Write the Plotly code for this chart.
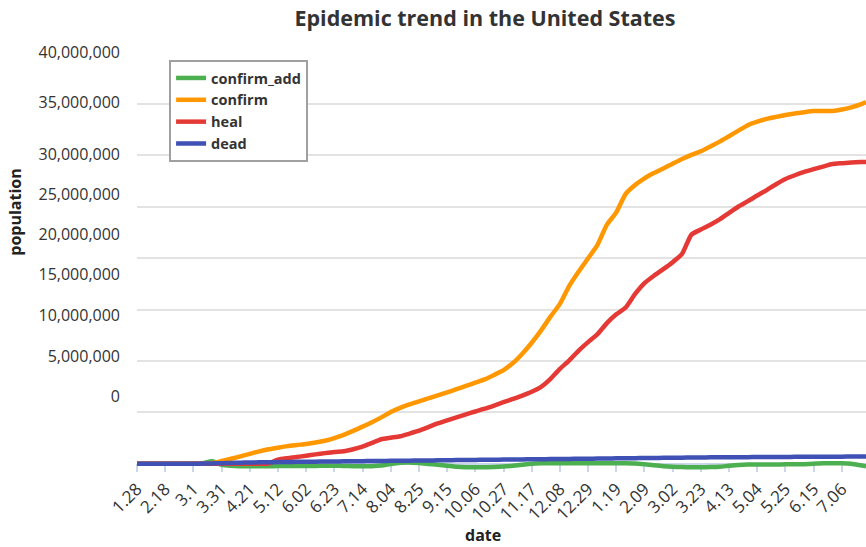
import pandas as pd
import plotly.graph_objects as go

# Weekly sample dates, plus the last reported day
sample_dates = list(pd.date_range("2020-01-28", "2021-07-20", freq="7D").strftime("%Y-%m-%d")) + ["2021-07-24"]

# Series values in millions of people
confirm_add_m = [0.0, 0.0, 0.0, 0.0, 0.0, 0.0, 0.02, 0.05, 0.25, -0.10,
                 -0.20, -0.24, -0.25, -0.25, -0.24, -0.23, -0.22, -0.22, -0.22, -0.21,
                 -0.20, -0.20, -0.22, -0.24, -0.25, -0.24, -0.18, -0.02, 0.10, 0.12,
                 0.06, -0.02, -0.10, -0.20, -0.30, -0.34, -0.35, -0.34, -0.33, -0.28,
                 -0.20, -0.10, 0.0, 0.04, 0.05, 0.05, 0.05, 0.05, 0.05, 0.05,
                 0.05, 0.05, 0.05, 0.03, -0.05, -0.15, -0.24, -0.30, -0.33, -0.34,
                 -0.34, -0.33, -0.30, -0.20, -0.12, -0.08, -0.08, -0.08, -0.07, -0.06,
                 -0.06, -0.04, 0.0, 0.04, 0.05, 0.05, 0.0, -0.15, -0.24]
confirm_m = [0.0, 0.0, 0.0, 0.0, 0.0, 0.0, 0.0, 0.01, 0.06, 0.26,
             0.48, 0.72, 0.96, 1.20, 1.40, 1.56, 1.71, 1.82, 1.92, 2.06,
             2.24, 2.49, 2.81, 3.19, 3.61, 4.04, 4.51, 5.03, 5.44, 5.77,
             6.07, 6.35, 6.64, 6.94, 7.25, 7.57, 7.89, 8.21, 8.64, 9.11,
             9.79, 10.70, 11.77, 12.97, 14.31, 15.55, 17.30, 18.69, 19.98, 21.29,
             23.25, 24.45, 26.25, 27.11, 27.76, 28.27, 28.72, 29.18, 29.64, 30.04,
             30.39, 30.86, 31.33, 31.86, 32.40, 32.93, 33.27, 33.55, 33.74, 33.92,
             34.07, 34.19, 34.30, 34.32, 34.31, 34.45, 34.67, 34.96, 35.19]
heal_m = [0.0, 0.0, 0.0, 0.0, 0.0, 0.0, 0.0, 0.0, 0.0, 0.0,
          0.0, 0.0, 0.0, 0.0, 0.02, 0.39, 0.54, 0.65, 0.78, 0.91,
          1.03, 1.14, 1.21, 1.41, 1.67, 2.02, 2.38, 2.53, 2.67, 2.93,
          3.21, 3.56, 3.92, 4.22, 4.51, 4.80, 5.08, 5.35, 5.66, 5.98,
          6.30, 6.63, 7.00, 7.47, 8.25, 9.23, 10.06, 11.01, 11.83, 12.61,
          13.68, 14.53, 15.20, 16.51, 17.57, 18.28, 18.93, 19.61, 20.41, 22.29,
          22.78, 23.25, 23.77, 24.40, 25.02, 25.54, 26.09, 26.62, 27.19, 27.70,
          28.06, 28.38, 28.65, 28.90, 29.15, 29.23, 29.30, 29.34, 29.35]
dead_m = [0.0, 0.0, 0.0, 0.0, 0.0, 0.0, 0.0, 0.01, 0.02, 0.05,
          0.08, 0.10, 0.12, 0.14, 0.15, 0.16, 0.17, 0.18, 0.19, 0.20,
          0.21, 0.22, 0.23, 0.24, 0.25, 0.26, 0.27, 0.28, 0.29, 0.30,
          0.31, 0.32, 0.33, 0.34, 0.35, 0.36, 0.37, 0.38, 0.39, 0.40,
          0.41, 0.42, 0.43, 0.44, 0.45, 0.46, 0.47, 0.48, 0.49, 0.50,
          0.51, 0.52, 0.53, 0.54, 0.55, 0.56, 0.57, 0.58, 0.59, 0.60,
          0.61, 0.62, 0.62, 0.63, 0.64, 0.64, 0.65, 0.65, 0.66, 0.66,
          0.67, 0.67, 0.68, 0.68, 0.69, 0.69, 0.70, 0.70, 0.71]

# Category labels on the date axis (every 21 days)
tick_dates = list(pd.date_range("2020-01-28", "2021-07-06", freq="21D").strftime("%Y-%m-%d"))
tick_labels = ["1.28", "2.18", "3.1", "3.31", "4.21", "5.12", "6.02", "6.23", "7.14",
               "8.04", "8.25", "9.15", "10.06", "10.27", "11.17", "12.08", "12.29",
               "1.19", "2.09", "3.02", "3.23", "4.13", "5.04", "5.25", "6.15", "7.06"]

# Value-axis labels and the heights they are printed at (millions)
y_tick_text = ["40,000,000", "35,000,000", "30,000,000", "25,000,000", "20,000,000",
               "15,000,000", "10,000,000", "5,000,000", "0"]
y_label_at_m = [40.0, 35.12, 30.10, 26.24, 22.26, 18.37, 14.39, 10.43, 6.54]

for s in (confirm_add_m, confirm_m, heal_m, dead_m):
    assert len(s) == len(sample_dates)

series = [
    ("confirm_add", confirm_add_m, "#4caf50"),
    ("confirm", confirm_m, "#ff9800"),
    ("heal", heal_m, "#e53935"),
    ("dead", dead_m, "#3f51b5"),
]

FONT = "Open Sans"
Y_MIN, Y_MAX = -1.0e6, 40.05e6

fig = go.Figure()
for name, vals, color in series:
    fig.add_trace(go.Scatter(
        x=sample_dates, y=[v * 1e6 for v in vals], name=name, mode="lines",
        line=dict(color=color, width=4.5, shape="spline", smoothing=0.6),
        hoverinfo="x+y+name",
    ))
# carrier for the label axis
fig.add_trace(go.Scatter(x=[sample_dates[0]], y=[0], yaxis="y2", mode="markers",
                         marker=dict(opacity=0), showlegend=False, hoverinfo="skip"))

zero_pos = (0 - Y_MIN) / (Y_MAX - Y_MIN)

fig.update_layout(
    width=866, height=547,
    margin=dict(l=137, r=0, t=52, b=73),
    paper_bgcolor="white", plot_bgcolor="white",
    font=dict(family=FONT, color="#333333", size=15),
    title=dict(text="Epidemic trend in the United States", x=0.56, xanchor="center",
               y=0.966, yanchor="middle",
               font=dict(family=FONT, size=21.5, color="#333333", weight="bold")),
    xaxis=dict(
        type="date", range=[sample_dates[0], sample_dates[-1]],
        tickvals=tick_dates, ticktext=tick_labels, tickangle=-45,
        tickfont=dict(size=17, color="#333333"),
        ticks="outside", ticklen=8, tickwidth=1.5, tickcolor="#ccd6eb",
        showline=True, linecolor="#ccd6eb", linewidth=1.5,
        showgrid=False, zeroline=False,
        anchor="free", position=zero_pos, layer="below traces",
    ),
    yaxis=dict(
        range=[Y_MIN, Y_MAX], tick0=0, dtick=5e6, showticklabels=False,
        showgrid=True, gridcolor="#e3e3e3", gridwidth=1.5,
        zeroline=False, ticks="",
    ),
    yaxis2=dict(
        overlaying="y", side="left", range=[Y_MIN, Y_MAX],
        tickvals=[v * 1e6 for v in y_label_at_m], ticktext=y_tick_text,
        tickfont=dict(size=16, color="#333333"),
        showgrid=False, zeroline=False, ticks="", ticklabelstandoff=16,
    ),
    legend=dict(
        x=0.044, y=0.981, xanchor="left", yanchor="top",
        bgcolor="white", bordercolor="#a0a0a0", borderwidth=2,
        font=dict(family=FONT, size=14.5, color="#333333", weight="bold"),
        tracegroupgap=0,
    ),
    annotations=[
        dict(text="population", xref="paper", yref="paper",
             x=(15 - 137) / 729, y=(474.3 - 213) / 422, textangle=-90,
             showarrow=False, xanchor="center", yanchor="middle",
             font=dict(family=FONT, size=16, color="#222222", weight="bold")),
        dict(text="date", xref="paper", yref="paper",
             x=(483 - 137) / 729, y=(474.3 - 535) / 422,
             showarrow=False, xanchor="center", yanchor="middle",
             font=dict(family=FONT, size=16, color="#222222", weight="bold")),
    ],
)

fig.write_html("out.html")
